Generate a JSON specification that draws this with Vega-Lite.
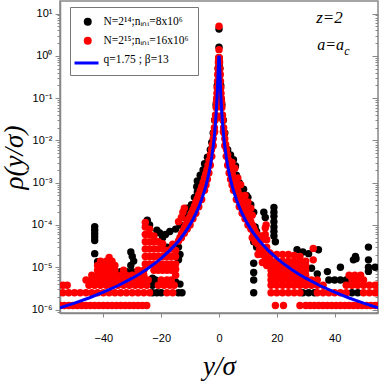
{
"$schema": "https://vega.github.io/schema/vega-lite/v6.json",
"width": 318, "height": 312,
"autosize": {"type": "none"},
"padding": {"left": 60, "top": 1, "right": 4, "bottom": 69},
"background": "white",
"config": {
 "view": {"stroke": "#888", "strokeWidth": 1.5},
 "axis": {"domainColor": "#888", "domainWidth": 1.5, "tickColor": "#888", "tickWidth": 1, "labelFont": "Liberation Sans", "labelFontSize": 11, "labelColor": "#000", "titleFont": "Liberation Serif", "titleFontStyle": "italic", "titleFontWeight": "normal", "titleFontSize": 27, "titleColor": "#000", "grid": false}
},
"datasets": {
"black": [
{"x":0,"y":4.3},{"x":0,"y":1.6},{"x":0,"y":0.9},{"x":0.05,"y":0.6},
{"x":-0.3,"y":0.5},{"x":-0.6,"y":0.2},{"x":-1,"y":0.07},{"x":-1.5,"y":0.03},{"x":-2,"y":0.015},{"x":-2.5,"y":0.009},{"x":-3,"y":0.006},{"x":-4,"y":0.004},{"x":-5,"y":0.0028},{"x":-5.5,"y":0.002},{"x":-6.5,"y":0.0015},{"x":-7.5,"y":0.0011},{"x":-7.7,"y":0.0008},{"x":-7.5,"y":0.0006},{"x":-8.5,"y":0.00045},{"x":-9.5,"y":0.0003},{"x":-11,"y":0.00025},{"x":-12,"y":0.00018},{"x":-12.5,"y":0.00015},{"x":-13.5,"y":0.0001},{"x":-15,"y":8e-5},{"x":-17,"y":7e-5},{"x":-18.5,"y":6e-5},{"x":-19.5,"y":5e-5},{"x":-20.5,"y":4e-5},{"x":-18,"y":3e-5},{"x":-14,"y":3e-5},{"x":-13.5,"y":2e-5},{"x":-14,"y":1.5e-5},
{"x":-24.8,"y":1.3e-4},{"x":-24,"y":1e-4},{"x":-21.5,"y":7.5e-5},{"x":-20.5,"y":6.5e-5},
{"x":-23,"y":2.5e-6},{"x":-21.5,"y":2.5e-6},{"x":-20,"y":2.5e-6},{"x":-14,"y":2.5e-6},{"x":-12.8,"y":2.5e-6},{"x":-15,"y":4.5e-6},{"x":-13.5,"y":4e-6},{"x":-22,"y":5e-6},{"x":-23,"y":3.75e-6},{"x":-23,"y":5.5e-6},
{"x":-43,"y":9.1e-5},{"x":-43,"y":7.5e-5},{"x":-43,"y":6.2e-5},{"x":-43,"y":5.2e-5},{"x":-43,"y":4.3e-5},{"x":-43,"y":2.1e-5},{"x":-42,"y":1.35e-5},{"x":-41.5,"y":1e-5},{"x":-41,"y":7.7e-6},
{"x":-30.5,"y":2.3e-5},{"x":-30,"y":1.8e-5},{"x":-29.5,"y":1.4e-5},{"x":-36,"y":7.9e-6},{"x":-34,"y":7.9e-6},{"x":-32,"y":7.9e-6},{"x":-30,"y":7.9e-6},{"x":-30.5,"y":1.1e-5},
{"x":0.3,"y":0.5},{"x":0.6,"y":0.2},{"x":1,"y":0.07},{"x":1.5,"y":0.03},{"x":2,"y":0.015},{"x":3,"y":0.006},{"x":4,"y":0.0045},{"x":5,"y":0.0035},{"x":5.7,"y":0.0025},{"x":6,"y":0.0015},{"x":7,"y":0.001},{"x":8.5,"y":0.0007},{"x":9.5,"y":0.0005},{"x":10,"y":0.00045},{"x":11,"y":0.0003},{"x":12,"y":0.0002},{"x":12.5,"y":9e-5},{"x":13,"y":7e-5},{"x":13,"y":5e-5},{"x":15.5,"y":0.0002},{"x":16,"y":0.00015},
{"x":19,"y":0.00026},{"x":19,"y":0.0002},{"x":19,"y":0.00016},{"x":19,"y":0.00012},{"x":19,"y":9e-5},{"x":19,"y":7e-5},{"x":19,"y":5.5e-5},{"x":19.5,"y":4e-5},
{"x":12,"y":4e-5},{"x":12,"y":1.25e-5},{"x":12,"y":7.5e-6},{"x":12,"y":5e-6},{"x":12,"y":2.5e-6},{"x":13,"y":3e-5},
{"x":37.5,"y":7.9e-6},{"x":42,"y":1e-5},{"x":42,"y":5e-6},{"x":38,"y":5e-6},{"x":40,"y":5e-6},{"x":44,"y":5e-6},{"x":46.5,"y":1.5e-5},{"x":51.7,"y":3e-5},{"x":51.7,"y":1.5e-5},{"x":51.7,"y":1e-5},{"x":51.7,"y":8e-6},{"x":47.2,"y":1.8e-5},{"x":34.4,"y":2.6e-5},{"x":27,"y":2.6e-5},{"x":29,"y":2.3e-5},{"x":31,"y":2.1e-5},{"x":32,"y":9.5e-6},{"x":34,"y":7e-6},{"x":29,"y":2.5e-6},{"x":31,"y":2.5e-6},{"x":33,"y":2.5e-6},{"x":46,"y":2.5e-6},{"x":48,"y":2.5e-6},{"x":54,"y":1e-5},{"x":47.4,"y":1.6e-5}
],
"red": [
{"x":0,"y":5.0},{"x":0,"y":1.4},
{"x":0.1,"y":0.9},{"x":0.2,"y":0.7},{"x":0.3,"y":0.5},{"x":0.4,"y":0.35},{"x":0.5,"y":0.25},{"x":0.6,"y":0.18},{"x":0.7,"y":0.13},{"x":0.8,"y":0.1},{"x":0.9,"y":0.08},{"x":1,"y":0.06},{"x":1.2,"y":0.04},{"x":1.4,"y":0.03},{"x":1.6,"y":0.02},{"x":1.8,"y":0.015},{"x":2,"y":0.011},{"x":2.3,"y":0.008},{"x":2.6,"y":0.006},{"x":3,"y":0.0045},{"x":3.4,"y":0.0034},{"x":3.8,"y":0.0026},{"x":4.2,"y":0.002},{"x":4.6,"y":0.0016},{"x":5,"y":0.0013},{"x":5.5,"y":0.001},{"x":6,"y":0.0008},{"x":6.5,"y":0.00065},{"x":7,"y":0.00052},{"x":7.5,"y":0.00042},{"x":8,"y":0.00035},{"x":8.5,"y":0.00028},{"x":9,"y":0.00023},{"x":9.5,"y":0.00019},{"x":10,"y":0.00016},{"x":10.5,"y":0.00014},{"x":11,"y":0.00012},{"x":11.5,"y":0.0001},{"x":12,"y":8.5e-5},{"x":12.5,"y":7e-5},{"x":13,"y":6e-5},{"x":13.5,"y":5e-5},{"x":14,"y":4.2e-5},
{"x":0.15,"y":0.75},{"x":0.35,"y":0.38},{"x":0.55,"y":0.17},{"x":0.75,"y":0.09},{"x":1.1,"y":0.035},{"x":1.5,"y":0.016},{"x":2,"y":0.0075},{"x":2.5,"y":0.0042},{"x":3,"y":0.0026},{"x":3.5,"y":0.0017},{"x":4,"y":0.0012},{"x":4.5,"y":0.00088},{"x":5,"y":0.00066},{"x":6,"y":0.0004},{"x":7,"y":0.00027},{"x":8,"y":0.00019},{"x":9,"y":0.00014},{"x":10,"y":0.0001},{"x":11,"y":8e-5},{"x":12,"y":6.4e-5},{"x":13,"y":5e-5},
{"x":4.5,"y":0.003},{"x":5.5,"y":0.0022},{"x":6.5,"y":0.0013},{"x":7.5,"y":0.0009},{"x":9,"y":0.0005},{"x":10,"y":0.00035},{"x":11,"y":0.00025},{"x":11.5,"y":0.00017},{"x":16.3,"y":0.0001},{"x":16,"y":8.5e-5},
{"x":-0.1,"y":0.9},{"x":-0.2,"y":0.7},{"x":-0.3,"y":0.5},{"x":-0.4,"y":0.35},{"x":-0.5,"y":0.25},{"x":-0.6,"y":0.18},{"x":-0.7,"y":0.13},{"x":-0.8,"y":0.1},{"x":-0.9,"y":0.08},{"x":-1,"y":0.06},{"x":-1.2,"y":0.04},{"x":-1.4,"y":0.03},{"x":-1.6,"y":0.02},{"x":-1.8,"y":0.015},{"x":-2,"y":0.011},{"x":-2.3,"y":0.008},{"x":-2.6,"y":0.006},{"x":-3,"y":0.0045},{"x":-3.4,"y":0.0034},{"x":-3.8,"y":0.0026},{"x":-4.2,"y":0.002},{"x":-4.6,"y":0.0016},{"x":-5,"y":0.0013},{"x":-5.5,"y":0.001},{"x":-6,"y":0.0008},{"x":-6.5,"y":0.00065},{"x":-7,"y":0.00052},{"x":-7.5,"y":0.00042},{"x":-8,"y":0.00035},{"x":-8.5,"y":0.00028},{"x":-9,"y":0.00023},{"x":-9.5,"y":0.00019},{"x":-10,"y":0.00016},{"x":-10.5,"y":0.00014},{"x":-11,"y":0.00012},{"x":-11.5,"y":0.0001},{"x":-12,"y":8.5e-5},{"x":-12.5,"y":7e-5},{"x":-13,"y":6e-5},{"x":-13.5,"y":5e-5},{"x":-14,"y":4.2e-5},
{"x":-0.15,"y":0.75},{"x":-0.35,"y":0.38},{"x":-0.55,"y":0.17},{"x":-0.75,"y":0.09},{"x":-1.1,"y":0.035},{"x":-1.5,"y":0.016},{"x":-2,"y":0.0075},{"x":-2.5,"y":0.0042},{"x":-3,"y":0.0026},{"x":-3.5,"y":0.0017},{"x":-4,"y":0.0012},{"x":-4.5,"y":0.00088},{"x":-5,"y":0.00066},{"x":-6,"y":0.0004},{"x":-7,"y":0.00027},{"x":-8,"y":0.00019},{"x":-9,"y":0.00014},{"x":-10,"y":0.0001},{"x":-11,"y":8e-5},{"x":-12,"y":6.4e-5},{"x":-13,"y":5e-5},
{"x":-13,"y":1.5e-4},{"x":-12.5,"y":2e-4},{"x":-12,"y":2.5e-4},{"x":-14,"y":1.2e-4},{"x":-5.7,"y":0.0008},{"x":-9,"y":0.0002},
{"x":-55,"y":1.25e-6},{"x":-53.5,"y":1.25e-6},{"x":-52,"y":1.25e-6},{"x":-50.5,"y":1.25e-6},{"x":-49,"y":1.25e-6},{"x":-47.5,"y":1.25e-6},{"x":-46,"y":1.25e-6},{"x":-44.5,"y":1.25e-6},{"x":-43,"y":1.25e-6},{"x":-41.5,"y":1.25e-6},{"x":-40,"y":1.25e-6},{"x":-38.5,"y":1.25e-6},{"x":-37,"y":1.25e-6},{"x":-35.5,"y":1.25e-6},{"x":-34,"y":1.25e-6},{"x":-32.5,"y":1.25e-6},{"x":-31,"y":1.25e-6},{"x":-29.5,"y":1.25e-6},{"x":-28,"y":1.25e-6},{"x":-26.5,"y":1.25e-6},{"x":-25,"y":1.25e-6},
{"x":19.5,"y":1.25e-6},{"x":22.3,"y":1.25e-6},{"x":28,"y":1.25e-6},{"x":30,"y":1.25e-6},{"x":31.5,"y":1.25e-6},{"x":33,"y":1.25e-6},{"x":34.5,"y":1.25e-6},{"x":36,"y":1.25e-6},{"x":37.5,"y":1.25e-6},{"x":39,"y":1.25e-6},{"x":40.5,"y":1.25e-6},{"x":42,"y":1.25e-6},{"x":43.5,"y":1.25e-6},{"x":45,"y":1.25e-6},{"x":46.5,"y":1.25e-6},{"x":48,"y":1.25e-6},{"x":49.5,"y":1.25e-6},{"x":51,"y":1.25e-6},{"x":52.5,"y":1.25e-6},{"x":54,"y":1.25e-6},{"x":55,"y":1.25e-6},
{"x":-54,"y":2.5e-6},{"x":-52,"y":2.5e-6},{"x":-50,"y":2.5e-6},{"x":-48,"y":2.5e-6},{"x":-46,"y":2.5e-6},{"x":-44,"y":2.5e-6},{"x":-42,"y":2.5e-6},{"x":-40,"y":2.5e-6},{"x":-38,"y":2.5e-6},{"x":-36,"y":2.5e-6},{"x":-34,"y":2.5e-6},{"x":-32,"y":2.5e-6},{"x":-30,"y":2.5e-6},{"x":-28,"y":2.5e-6},{"x":-26,"y":2.5e-6},{"x":-24,"y":2.5e-6},{"x":-18,"y":2.5e-6},{"x":-16,"y":2.5e-6},
{"x":18,"y":2.5e-6},{"x":20,"y":2.5e-6},{"x":22,"y":2.5e-6},{"x":24,"y":2.5e-6},{"x":26,"y":2.5e-6},{"x":28,"y":2.5e-6},{"x":34,"y":2.5e-6},{"x":36,"y":2.5e-6},{"x":38,"y":2.5e-6},{"x":40,"y":2.5e-6},{"x":42,"y":2.5e-6},{"x":44,"y":2.5e-6},{"x":50,"y":2.5e-6},{"x":52,"y":2.5e-6},{"x":54,"y":2.5e-6},{"x":55,"y":2.5e-6},
{"x":-54,"y":3.75e-6},{"x":-52.5,"y":3.75e-6},{"x":-45,"y":3.75e-6},{"x":-43,"y":3.75e-6},{"x":-41,"y":3.75e-6},{"x":-39,"y":3.75e-6},{"x":-37,"y":3.75e-6},{"x":-35,"y":3.75e-6},{"x":-33,"y":3.75e-6},{"x":-31,"y":3.75e-6},{"x":-29,"y":3.75e-6},{"x":-27,"y":3.75e-6},{"x":-25,"y":3.75e-6},{"x":-21,"y":3.75e-6},{"x":-19,"y":3.75e-6},{"x":-17,"y":3.75e-6},{"x":-15.5,"y":3.75e-6},
{"x":18,"y":3.75e-6},{"x":20,"y":3.75e-6},{"x":22,"y":3.75e-6},{"x":24,"y":3.75e-6},{"x":26,"y":3.75e-6},{"x":28,"y":3.75e-6},{"x":30,"y":3.75e-6},{"x":32,"y":3.75e-6},{"x":34,"y":3.75e-6},{"x":36,"y":3.75e-6},{"x":44,"y":3.75e-6},{"x":46,"y":3.75e-6},{"x":48,"y":3.75e-6},{"x":50,"y":3.75e-6},{"x":52,"y":3.75e-6},{"x":54,"y":3.75e-6},{"x":55,"y":3.75e-6},
{"x":-46,"y":5e-6},{"x":-44,"y":5e-6},{"x":-42,"y":5e-6},{"x":-40,"y":5e-6},{"x":-38,"y":5e-6},{"x":-36,"y":5e-6},{"x":-34,"y":5e-6},{"x":-32,"y":5e-6},{"x":-30,"y":5e-6},{"x":-28,"y":5e-6},{"x":-26,"y":5e-6},{"x":-24.5,"y":5e-6},{"x":-20,"y":5e-6},{"x":-18,"y":5e-6},{"x":-16.5,"y":5e-6},
{"x":18,"y":5e-6},{"x":20,"y":5e-6},{"x":22,"y":5e-6},{"x":24,"y":5e-6},{"x":26,"y":5e-6},{"x":28,"y":5e-6},{"x":30,"y":5e-6},{"x":32,"y":5e-6},{"x":34,"y":5e-6},{"x":46,"y":5e-6},{"x":48,"y":5e-6},{"x":50,"y":5e-6},
{"x":-44,"y":6.5e-6},{"x":-42,"y":6.5e-6},{"x":-40,"y":6.5e-6},{"x":-38,"y":6.5e-6},{"x":-36,"y":6.5e-6},{"x":-34,"y":6.5e-6},{"x":-32,"y":6.5e-6},{"x":-30,"y":6.5e-6},{"x":-28,"y":6.5e-6},{"x":-26,"y":6.5e-6},{"x":-15,"y":6.5e-6},
{"x":18,"y":6.5e-6},{"x":20,"y":6.5e-6},{"x":22,"y":6.5e-6},{"x":24,"y":6.5e-6},{"x":26,"y":6.5e-6},{"x":28,"y":6.5e-6},{"x":30,"y":6.5e-6},{"x":45,"y":6.5e-6},{"x":47,"y":6.5e-6},{"x":49,"y":6.5e-6},
{"x":-42,"y":8.5e-6},{"x":-40,"y":8.5e-6},{"x":-38,"y":8.5e-6},{"x":-36,"y":8.5e-6},{"x":-33,"y":8.5e-6},{"x":-28,"y":8.5e-6},{"x":-26,"y":8.5e-6},{"x":-22.5,"y":8.5e-6},{"x":-21,"y":8.5e-6},{"x":-19.5,"y":8.5e-6},{"x":-18,"y":8.5e-6},{"x":-16.5,"y":8.5e-6},
{"x":18,"y":8.5e-6},{"x":20,"y":8.5e-6},{"x":22,"y":8.5e-6},{"x":24,"y":8.5e-6},{"x":26,"y":8.5e-6},{"x":28,"y":8.5e-6},{"x":30,"y":8.5e-6},
{"x":-42,"y":1.1e-5},{"x":-40,"y":1.1e-5},{"x":-38,"y":1.1e-5},{"x":-36,"y":1.1e-5},{"x":-41,"y":1.4e-5},{"x":-39,"y":1.4e-5},{"x":-37,"y":1.4e-5},{"x":-38,"y":1.7e-5},
{"x":18,"y":1.1e-5},{"x":20,"y":1.1e-5},{"x":22,"y":1.1e-5},{"x":24,"y":1.1e-5},{"x":26,"y":1.1e-5},{"x":28,"y":1.1e-5},{"x":30,"y":1.1e-5},
{"x":18,"y":1.4e-5},{"x":20,"y":1.4e-5},{"x":22,"y":1.4e-5},{"x":24,"y":1.4e-5},{"x":26,"y":1.4e-5},{"x":28,"y":1.4e-5},{"x":30,"y":1.4e-5},{"x":32.6,"y":1.5e-5},
{"x":18,"y":2e-5},{"x":20,"y":2e-5},{"x":22,"y":2e-5},{"x":24,"y":2e-5},{"x":26,"y":1.9e-5},{"x":28,"y":1.8e-5},{"x":32.6,"y":2.8e-5},
{"x":-25.5,"y":1.2e-5},{"x":-25.5,"y":1.8e-5},{"x":-25.5,"y":2.7e-5},{"x":-25.5,"y":4e-5},{"x":-25.5,"y":6e-5},{"x":-25.5,"y":9e-5},{"x":-25.5,"y":1.15e-4},
{"x":-24,"y":1.2e-5},{"x":-24,"y":1.8e-5},{"x":-24,"y":2.7e-5},{"x":-24,"y":4e-5},{"x":-24,"y":6e-5},{"x":-24,"y":8e-5},
{"x":-22.5,"y":1.2e-5},{"x":-22.5,"y":1.8e-5},{"x":-22.5,"y":2.7e-5},{"x":-22.5,"y":4e-5},{"x":-22.5,"y":5.5e-5},
{"x":-21,"y":1.2e-5},{"x":-21,"y":1.8e-5},{"x":-21,"y":2.7e-5},{"x":-21,"y":4e-5},
{"x":-19.5,"y":1.2e-5},{"x":-19.5,"y":1.8e-5},{"x":-19.5,"y":2.7e-5},{"x":-19.5,"y":3.6e-5},
{"x":-18,"y":1.2e-5},{"x":-18,"y":1.8e-5},{"x":-18,"y":2.5e-5},
{"x":-16.5,"y":1.2e-5},{"x":-16.5,"y":1.8e-5},{"x":-16.5,"y":2.7e-5},{"x":-16,"y":3.5e-5},
{"x":-15,"y":1.2e-5},{"x":-15,"y":1.8e-5},{"x":-15,"y":2.5e-5},{"x":-15,"y":9e-6},
{"x":11.5,"y":5e-5},{"x":12.5,"y":4e-5},{"x":13.5,"y":3.5e-5},{"x":14.5,"y":3e-5},{"x":15.5,"y":2.5e-5},{"x":16.5,"y":3e-5},{"x":17.5,"y":2.2e-5},{"x":14,"y":2.5e-5},{"x":15,"y":2e-5},{"x":16,"y":1.7e-5},{"x":17,"y":1.5e-5},{"x":14.5,"y":5.5e-5},{"x":13,"y":6e-5},{"x":13.5,"y":2e-5},{"x":15,"y":1.3e-5},{"x":16.5,"y":1.1e-5},{"x":15,"y":4.5e-5},{"x":16.5,"y":4.5e-5},{"x":16,"y":6e-5}
],
"curve": [
{"x":-55,"y":1.10e-6},{"x":-50,"y":1.42e-6},{"x":-45,"y":1.88e-6},{"x":-40,"y":2.57e-6},{"x":-35,"y":3.66e-6},{"x":-30,"y":5.52e-6},{"x":-27.5,"y":6.97e-6},{"x":-25,"y":8.99e-6},{"x":-22.5,"y":1.19e-5},{"x":-20,"y":1.63e-5},{"x":-17,"y":2.51e-5},{"x":-15,"y":3.50e-5},{"x":-14,"y":4.20e-5},{"x":-13,"y":5.13e-5},{"x":-12,"y":6.35e-5},{"x":-11,"y":8.0e-5},{"x":-10,"y":1.034e-4},{"x":-9,"y":1.37e-4},{"x":-8,"y":1.87e-4},{"x":-7,"y":2.67e-4},{"x":-6,"y":4.02e-4},{"x":-5,"y":6.53e-4},{"x":-4.5,"y":8.64e-4},{"x":-4,"y":1.18e-3},{"x":-3.5,"y":1.68e-3},{"x":-3,"y":2.527e-3},{"x":-2.5,"y":4.08e-3},{"x":-2,"y":7.31e-3},{"x":-1.75,"y":1.034e-2},{"x":-1.5,"y":1.534e-2},{"x":-1.25,"y":2.43e-2},{"x":-1,"y":4.21e-2},{"x":-0.8,"y":7.14e-2},{"x":-0.7,"y":9.65e-2},{"x":-0.6,"y":0.1342},{"x":-0.5,"y":0.1928},{"x":-0.4,"y":0.2856},{"x":-0.3,"y":0.432},{"x":-0.2,"y":0.645},{"x":-0.15,"y":0.768},{"x":-0.1,"y":0.883},{"x":-0.05,"y":0.968},{"x":0,"y":1},
{"x":0.05,"y":0.968},{"x":0.1,"y":0.883},{"x":0.15,"y":0.768},{"x":0.2,"y":0.645},{"x":0.3,"y":0.432},{"x":0.4,"y":0.2856},{"x":0.5,"y":0.1928},{"x":0.6,"y":0.1342},{"x":0.7,"y":9.65e-2},{"x":0.8,"y":7.14e-2},{"x":1,"y":4.21e-2},{"x":1.25,"y":2.43e-2},{"x":1.5,"y":1.534e-2},{"x":1.75,"y":1.034e-2},{"x":2,"y":7.31e-3},{"x":2.5,"y":4.08e-3},{"x":3,"y":2.527e-3},{"x":3.5,"y":1.68e-3},{"x":4,"y":1.18e-3},{"x":4.5,"y":8.64e-4},{"x":5,"y":6.53e-4},{"x":6,"y":4.02e-4},{"x":7,"y":2.67e-4},{"x":8,"y":1.87e-4},{"x":9,"y":1.37e-4},{"x":10,"y":1.034e-4},{"x":11,"y":8.0e-5},{"x":12,"y":6.35e-5},{"x":13,"y":5.13e-5},{"x":14,"y":4.20e-5},{"x":15,"y":3.50e-5},{"x":17,"y":2.51e-5},{"x":20,"y":1.63e-5},{"x":22.5,"y":1.19e-5},{"x":25,"y":8.99e-6},{"x":27.5,"y":6.97e-6},{"x":30,"y":5.52e-6},{"x":35,"y":3.66e-6},{"x":40,"y":2.57e-6},{"x":45,"y":1.88e-6},{"x":50,"y":1.42e-6},{"x":55,"y":1.10e-6}
],
"t1": [{"x":38.2,"y":5.97,"t":"z=2"}],
"t2": [{"x":34.0,"y":1.37,"t":"a=a"}],
"t3": [{"x":43.3,"y":1.04,"t":"c"}]
},
"resolve": {"axis": {"y": "independent"}},
"layer": [
{
 "data": {"name": "black"},
 "mark": {"type": "point", "filled": true, "size": 55, "opacity": 1, "clip": true},
 "encoding": {
  "x": {"field": "x", "type": "quantitative", "scale": {"domain": [-55, 55], "nice": false, "zero": false},
        "axis": {"title": "y/σ", "values": [-40, -20, 0, 20, 40], "tickSize": 4, "labelPadding": 15, "titleBaseline": "alphabetic", "titleY": 61}},
  "y": {"field": "y", "type": "quantitative", "scale": {"type": "log", "domain": [8.3e-7, 19.8], "nice": false},
        "axis": {"orient": "left", "title": "ρ(y/σ)", "titlePadding": 3,
          "values": [9e-7,1e-6,2e-6,3e-6,4e-6,5e-6,6e-6,7e-6,8e-6,9e-6,1e-5,2e-5,3e-5,4e-5,5e-5,6e-5,7e-5,8e-5,9e-5,1e-4,2e-4,3e-4,4e-4,5e-4,6e-4,7e-4,8e-4,9e-4,0.001,0.002,0.003,0.004,0.005,0.006,0.007,0.008,0.009,0.01,0.02,0.03,0.04,0.05,0.06,0.07,0.08,0.09,0.1,0.2,0.3,0.4,0.5,0.6,0.7,0.8,0.9,1,2,3,4,5,6,7,8,9,10],
          "labelExpr": "abs(log(datum.value)/LN10 - round(log(datum.value)/LN10)) < 0.01 ? '10' + replace(replace(replace(replace(replace(replace(replace(replace(''+round(log(datum.value)/LN10),'-','⁻'),'0','⁰'),'1','¹'),'2','²'),'3','³'),'4','⁴'),'5','⁵'),'6','⁶') : ''",
          "tickSize": {"condition": {"test": "abs(log(datum.value)/LN10 - round(log(datum.value)/LN10)) < 0.01", "value": 5}, "value": 3},
          "labelPadding": 3}},
  "color": {"datum": "N=2¹⁴;nᵢₙᵢ=8x10⁶",
    "scale": {"domain": ["N=2¹⁴;nᵢₙᵢ=8x10⁶", "N=2¹⁵;nᵢₙᵢ=16x10⁶", "q=1.75 ; β=13"], "range": ["#000000", "#ff0000", "#ffffff"]},
    "legend": {"orient": "none", "legendX": 10, "legendY": 6, "title": null, "fillColor": "white", "strokeColor": "#777", "padding": 9, "symbolOffset": 3, "symbolSize": 64, "labelFont": "Liberation Serif", "labelFontSize": 11.5, "labelColor": "#000", "labelOffset": 10, "rowPadding": 6, "labelLimit": 200}}
 }
},
{
 "data": {"name": "red"},
 "mark": {"type": "point", "filled": true, "size": 55, "opacity": 1, "clip": true},
 "encoding": {
  "x": {"field": "x", "type": "quantitative", "title": "y/σ", "scale": {"domain": [-55, 55], "nice": false, "zero": false}},
  "y": {"field": "y", "type": "quantitative", "scale": {"type": "log", "domain": [8.3e-7, 19.8], "nice": false}, "axis": null},
  "color": {"datum": "N=2¹⁵;nᵢₙᵢ=16x10⁶"}
 }
},
{
 "data": {"name": "curve"},
 "mark": {"type": "line", "strokeWidth": 3, "clip": true},
 "encoding": {
  "x": {"field": "x", "type": "quantitative", "title": "y/σ", "scale": {"domain": [-55, 55], "nice": false, "zero": false}},
  "y": {"field": "y", "type": "quantitative", "scale": {"type": "log", "domain": [8.3e-7, 19.8], "nice": false},
        "axis": {"orient": "right", "title": null, "labels": false, "domain": false,
          "values": [9e-7,1e-6,2e-6,3e-6,4e-6,5e-6,6e-6,7e-6,8e-6,9e-6,1e-5,2e-5,3e-5,4e-5,5e-5,6e-5,7e-5,8e-5,9e-5,1e-4,2e-4,3e-4,4e-4,5e-4,6e-4,7e-4,8e-4,9e-4,0.001,0.002,0.003,0.004,0.005,0.006,0.007,0.008,0.009,0.01,0.02,0.03,0.04,0.05,0.06,0.07,0.08,0.09,0.1,0.2,0.3,0.4,0.5,0.6,0.7,0.8,0.9,1,2,3,4,5,6,7,8,9,10],
          "tickSize": {"condition": {"test": "abs(log(datum.value)/LN10 - round(log(datum.value)/LN10)) < 0.01", "value": -6}, "value": -3}}},
  "stroke": {"datum": "q-Gaussian",
    "scale": {"domain": ["q-Gaussian"], "range": ["#0000ff"]},
    "legend": {"orient": "none", "legendX": 13, "legendY": 48.5, "title": null, "fillColor": "transparent", "strokeColor": "transparent", "padding": 0, "symbolType": "stroke", "symbolSize": 576, "symbolStrokeWidth": 3, "symbolOffset": 0, "labelExpr": "''", "labelFontSize": 1}}
 }
},
{
 "data": {"name": "t1"},
 "mark": {"type": "text", "font": "Liberation Serif", "fontStyle": "italic", "fontSize": 17, "align": "center", "baseline": "alphabetic", "color": "#000"},
 "encoding": {
  "x": {"field": "x", "type": "quantitative", "title": "y/σ", "scale": {"domain": [-55, 55], "nice": false, "zero": false}},
  "y": {"field": "y", "type": "quantitative", "scale": {"type": "log", "domain": [8.3e-7, 19.8], "nice": false}, "axis": null},
  "text": {"field": "t"}
 }
},
{
 "data": {"name": "t2"},
 "mark": {"type": "text", "font": "Liberation Serif", "fontStyle": "italic", "fontSize": 16, "align": "left", "baseline": "alphabetic", "color": "#000"},
 "encoding": {
  "x": {"field": "x", "type": "quantitative", "title": "y/σ", "scale": {"domain": [-55, 55], "nice": false, "zero": false}},
  "y": {"field": "y", "type": "quantitative", "scale": {"type": "log", "domain": [8.3e-7, 19.8], "nice": false}, "axis": null},
  "text": {"field": "t"}
 }
},
{
 "data": {"name": "t3"},
 "mark": {"type": "text", "font": "Liberation Serif", "fontStyle": "italic", "fontSize": 12, "align": "left", "baseline": "alphabetic", "color": "#000"},
 "encoding": {
  "x": {"field": "x", "type": "quantitative", "title": "y/σ", "scale": {"domain": [-55, 55], "nice": false, "zero": false}},
  "y": {"field": "y", "type": "quantitative", "scale": {"type": "log", "domain": [8.3e-7, 19.8], "nice": false}, "axis": null},
  "text": {"field": "t"}
 }
}
]
}
